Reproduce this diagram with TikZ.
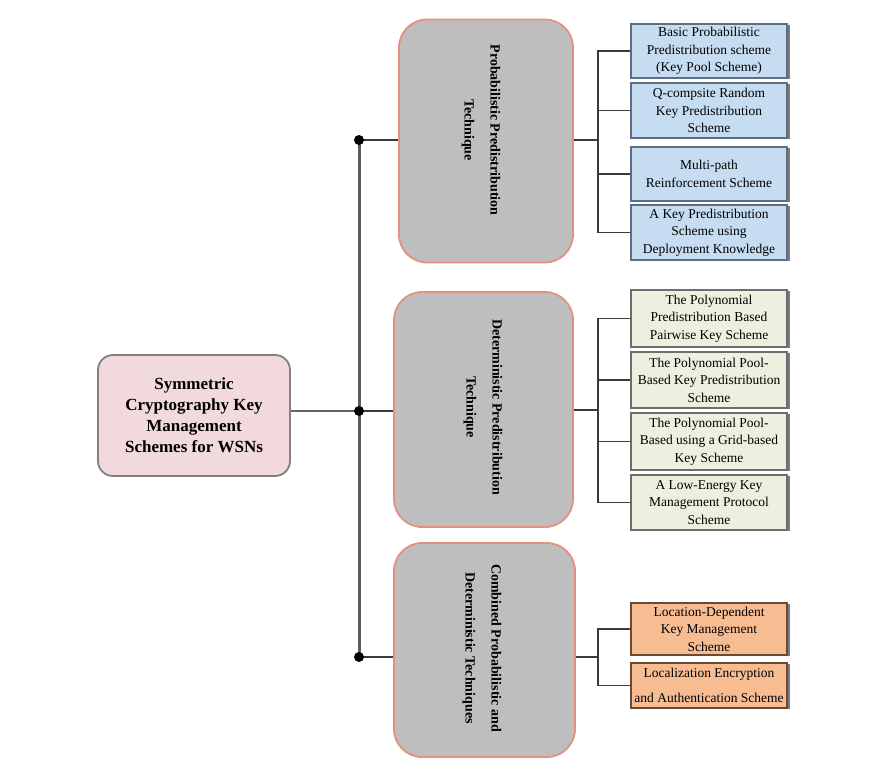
\documentclass[tikz,border=0pt]{standalone}
\usepackage{fontspec}
\setmainfont{Liberation Serif}
\usetikzlibrary{shadows}

\definecolor{rootfill}{HTML}{F2DADC}
\definecolor{rootedge}{HTML}{808080}
\definecolor{catfill}{HTML}{BEBEBE}
\definecolor{catedge}{HTML}{E3917F}
\definecolor{bluefill}{HTML}{C6DDF1}
\definecolor{blueedge}{HTML}{5B6E82}
\definecolor{greenfill}{HTML}{EBF1DE}
\definecolor{greenedge}{HTML}{6E6E6E}
\definecolor{orangefill}{HTML}{F7BC92}
\definecolor{orangeedge}{HTML}{6B4A32}
\definecolor{wire}{HTML}{3A3A3A}
\definecolor{buswire}{HTML}{5C5C5C}

\tikzset{
  rootbox/.style={draw=rootedge, fill=rootfill, line width=1.8pt, rounded corners=15pt,
    minimum width=192pt, minimum height=121pt, align=center,
    font=\fontsize{17}{21}\selectfont\bfseries},
  catbox/.style={draw=catedge, fill=catfill, line width=1.8pt, rounded corners=28pt},
  cattext/.style={rotate=-90, align=center, font=\fontsize{14}{26}\selectfont\bfseries},
  leafbox/.style={line width=1.5pt, minimum width=156pt, align=center, inner sep=1pt,
    font=\fontsize{13.5}{17.5}\selectfont,
    drop shadow={shadow xshift=2.5pt, shadow yshift=-1pt, fill=black!65, opacity=0.8}},
  blueleaf/.style={leafbox, draw=blueedge, fill=bluefill},
  greenleaf/.style={leafbox, draw=greenedge, fill=greenfill},
  orangeleaf/.style={leafbox, draw=orangeedge, fill=orangefill},
  dot/.style={circle, fill=black, inner sep=0pt, minimum size=10pt},
  link/.style={draw=wire, line width=1.4pt},
}

\begin{document}
\begin{tikzpicture}[x=1pt, y=-1pt]
\useasboundingbox (0,0) rectangle (877,758);

% root
\node[rootbox] (root) at (194,415.5) {Symmetric\\Cryptography Key\\Management\\Schemes for WSNs};

% technique boxes
\node[catbox, minimum width=174pt, minimum height=243pt] (cat1) at (486,141) {};
\node[cattext] (cat1t) at (481,130) {Probabilistic Predistribution\\Technique};
\node[catbox, minimum width=179pt, minimum height=235pt] (cat2) at (483.5,409.5) {};
\node[cattext] (cat2t) at (483,407) {Deterministic Predistribution\\Technique};
\node[catbox, minimum width=181pt, minimum height=214pt] (cat3) at (484.5,650) {};
\node[cattext] (cat3t) at (482,648) {Combined Probabilistic and\\Deterministic Techniques};

% probabilistic schemes
\node[blueleaf, minimum height=54pt] (b1) at (709,51) {Basic Probabilistic\\Predistribution scheme\\(Key Pool Scheme)};
\node[blueleaf, minimum height=55pt] (b2) at (709,110.5) {Q-compsite Random\\Key Predistribution\\Scheme};
\node[blueleaf, minimum height=54pt] (b3) at (709,174) {Multi-path\\Reinforcement Scheme};
\node[blueleaf, minimum height=55pt] (b4) at (709,232.5) {A Key Predistribution\\Scheme using\\Deployment Knowledge};

% deterministic schemes
\node[greenleaf, minimum height=57pt] (g1) at (709,318.5) {The Polynomial\\Predistribution Based\\Pairwise Key Scheme};
\node[greenleaf, minimum height=56pt] (g2) at (709,380) {The Polynomial Pool-\\Based Key Predistribution\\Scheme};
\node[greenleaf, minimum height=57pt] (g3) at (709,441.5) {The Polynomial Pool-\\Based using a Grid-based\\Key Scheme};
\node[greenleaf, minimum height=55pt] (g4) at (709,502.5) {A Low-Energy Key\\Management Protocol\\Scheme};

% combined schemes
\node[orangeleaf, minimum height=52pt] (o1) at (709,629) {Location-Dependent\\Key Management\\Scheme};
\node[orangeleaf, minimum height=45pt, font=\fontsize{13.5}{25}\selectfont] (o2) at (709,685.5) {Localization Encryption\\and Authentication Scheme};

% main bus
\coordinate (d1) at (359,140);
\coordinate (d2) at (359,411);
\coordinate (d3) at (359,657);
\draw[draw=buswire, line width=3pt] (d1) -- (d3);
\draw[draw=black!60, line width=2.2pt] (root.east |- d2) -- (d2);
\draw[link] (d1) -- (d1 -| cat1.west);
\draw[link] (d2) -- (d2 -| cat2.west);
\draw[link] (d3) -- (d3 -| cat3.west);
\node[dot] at (d1) {};
\node[dot] at (d2) {};
\node[dot] at (d3) {};

% branch junctions
\coordinate (j1) at (598,140);
\coordinate (j2) at (598,410);
\coordinate (j3) at (598,657);

\draw[link] (d1 -| cat1.east) -- (j1);
\draw[link] (b1.west) -- (b1.west -| j1) -- (b4.west -| j1) -- (b4.west);
\draw[link] (b2.west) -- (b2.west -| j1);
\draw[link] (b3.west) -- (b3.west -| j1);

\draw[link] (j2 -| cat2.east) -- (j2);
\draw[link] (g1.west) -- (g1.west -| j2) -- (g4.west -| j2) -- (g4.west);
\draw[link] (g2.west) -- (g2.west -| j2);
\draw[link] (g3.west) -- (g3.west -| j2);

\draw[link] (j3 -| cat3.east) -- (j3);
\draw[link] (o1.west) -- (o1.west -| j3) -- (o2.west -| j3) -- (o2.west);
\end{tikzpicture}
\end{document}
